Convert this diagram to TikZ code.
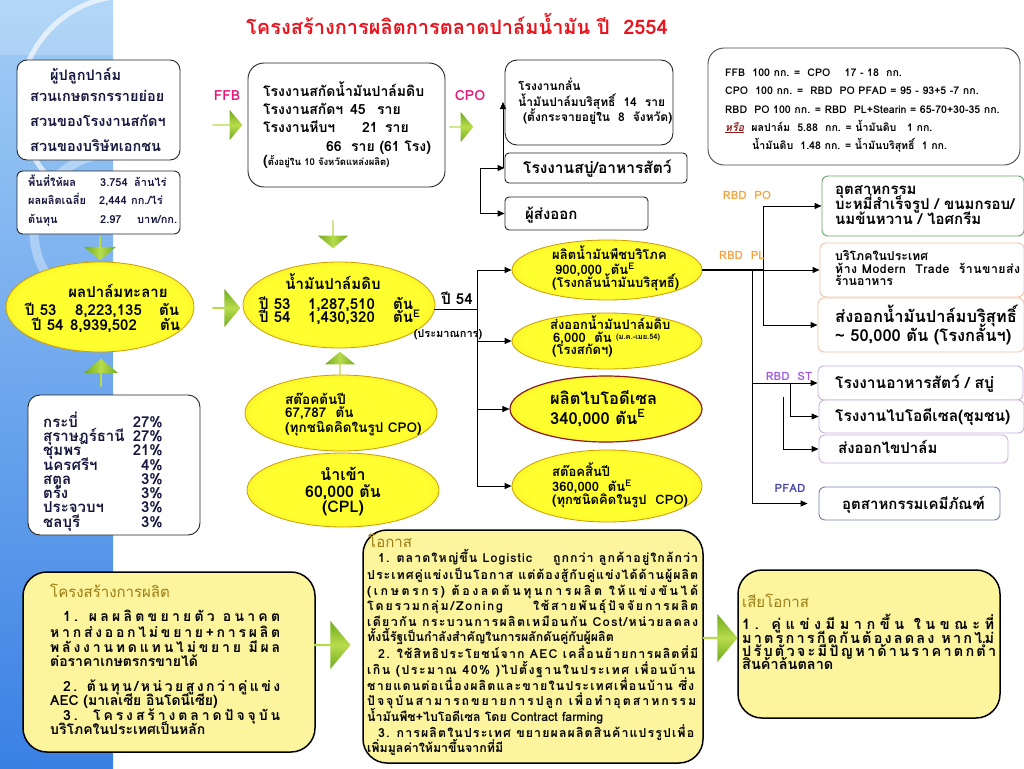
\documentclass[tikz,border=0pt]{standalone}
\usepackage{fontspec}
\setmainfont[Script=Thai]{Loma}
\usetikzlibrary{shapes.geometric,shapes.arrows,arrows.meta}
\definecolor{bgtop}{HTML}{A2CEF6}
\definecolor{bgbot}{HTML}{3A80E4}
\definecolor{byel}{HTML}{FCF59E}
\definecolor{olive}{HTML}{9C7C12}
\definecolor{mag}{HTML}{E5177C}
\definecolor{rorange}{HTML}{F4A23C}
\definecolor{rpurple}{HTML}{A05CE0}
\definecolor{pblue}{HTML}{4545A5}
\definecolor{navy}{HTML}{16163E}
\definecolor{ygold}{HTML}{C9A000}
\definecolor{yin}{HTML}{FFFF30}
\definecolor{yout}{HTML}{E8B800}
\definecolor{gdark}{HTML}{6FAA1E}
\definecolor{glight}{HTML}{B8DC4C}
\definecolor{redtitle}{HTML}{E8141E}
\definecolor{darkred}{HTML}{8B1A1A}
\definecolor{bgreen}{HTML}{6AA56A}
\definecolor{bsalmon}{HTML}{F0C4AC}
\definecolor{blilac}{HTML}{C8B0DC}
\definecolor{bslate}{HTML}{7080A8}
\newcommand\myfs[1]{\fontsize{#1}{#1}\selectfont}
\newlength\jwa
\newlength\jwb
\newcommand\jfit[2]{%
  \settowidth\jwa{#2}%
  \settowidth\jwb{\addfontfeature{LetterSpace=10}#2}%
  \pgfmathsetmacro\jls{max(0,10*(#1-\jwa)/(\jwb-\jwa))}%
  \edef\jtmp{\noexpand\addfontfeature{LetterSpace=\jls}}%
  {\jtmp #2}}
\pgfdeclareradialshading{yshade}{\pgfpoint{0bp}{0bp}}{color(0bp)=(yin); color(22bp)=(yin); color(46bp)=(yout); color(50bp)=(yout)}
\tikzset{
  box/.style={draw=black!85, line width=0.9pt, rounded corners=#1, fill=white, inner sep=0pt},
  box/.default=8pt,
  rbox/.style={draw=#1, line width=0.9pt, rounded corners=6pt, fill=white, inner sep=0pt},
  bigbox/.style={draw=black, line width=1.5pt, rounded corners=24pt, fill=byel, inner sep=0pt},
  yell/.style={ellipse, draw=ygold, line width=0.8pt, shading=yshade, inner sep=0pt},
  garR/.style={single arrow, draw=none, inner sep=0pt, single arrow head extend=4pt,
    single arrow tip angle=100, top color=gdark, bottom color=gdark, middle color=glight},
  garV/.style={single arrow, draw=none, inner sep=0pt, single arrow head extend=4pt,
    single arrow tip angle=100, shape border rotate=#1, left color=gdark, right color=gdark, middle color=glight},
  con/.style={-{Triangle[length=7pt,width=6pt]}, line width=0.9pt},
  ln/.style={line width=0.9pt},
  tx/.style={inner sep=0pt, anchor=base west, font=\bfseries\myfs{#1}},
  tc/.style={inner sep=0pt, anchor=base, font=\bfseries\myfs{#1}},
  tn/.style={inner sep=0pt, anchor=base west, font=\mdseries\myfs{#1}},
}
\begin{document}
\begin{tikzpicture}[x=1pt,y=-1pt]
\useasboundingbox (0,0) rectangle (1024,768);
\fill[white] (0,0) rectangle (1024,768);
% left decorative strip
\shade[top color=bgtop, bottom color=bgbot] (0,0) rectangle (113,768);
\begin{scope}
  \clip (0,0) rectangle (113,768);
  \fill[white, opacity=0.18] (0,0) rectangle (113,55);
  \draw[white, line width=5pt, opacity=0.65] (128,104) circle (108);
  \draw[white, line width=9pt, opacity=0.35] (112,232) circle (78);
\end{scope}

% title
\node[tc=20, text=redtitle] (title) at (457,35) {โครงสร้างการผลิตการตลาดปาล์มน้ำมัน ปี~~2554};

% farmers box
\node[box=10pt, minimum width=163pt, minimum height=100pt] (farm) at (98.5,110) {};
\node[tx=14.5, text=navy] (f1) at (50,81) {ผู้ปลูกปาล์ม};
\node[tx=14.5, text=navy] (f2) at (30,101) {สวนเกษตรกรรายย่อย};
\node[tx=14.5, text=navy] (f3) at (30,126) {สวนของโรงงานสกัดฯ};
\node[tx=14.5, text=navy] (f4) at (30,151) {สวนของบริษัทเอกชน};

\node[box=6pt, minimum width=163pt, minimum height=63pt] (area) at (98.5,202.5) {};
\node[tx=11, text=navy] (a1) at (28,186) {\makebox[72pt][l]{พื้นที่ให้ผล}\makebox[34pt][l]{3.754}ล้านไร่};
\node[tx=11, text=navy] (a2) at (28,204) {\makebox[71pt][l]{ผลผลิตเฉลี่ย}\makebox[32pt][l]{2,444}กก./ไร่};
\node[tx=11, text=navy] (a3) at (28,223) {\makebox[72pt][l]{ต้นทุน}\makebox[37pt][l]{2.97}บาท/กก.};

% fresh fruit bunch ellipse
\node[yell, minimum width=188pt, minimum height=90pt] (bunch) at (100,307) {};
\node[tc=15] (b1) at (118,297.5) {ผลปาล์มทะลาย};
\node[tx=15] (b2) at (25,315.5) {\makebox[50pt][l]{ปี 53}\makebox[84pt][l]{8,223,135}ตัน};
\node[tx=15] (b3) at (32,330.5) {\makebox[38pt][l]{ปี 54}\makebox[90pt][l]{8,939,502}ตัน};

% provinces
\node[box=12pt, minimum width=172pt, minimum height=140pt] (prov) at (114,465) {};
\foreach \nm/\pc/\yy [count=\i] in {กระบี่/27\%/427.5, สุราษฎร์ธานี/27\%/441.5, ชุมพร/21\%/455.5, นครศรีฯ/4\%/470.5, สตูล/3\%/484.5, ตรัง/3\%/498.5, ประจวบฯ/3\%/512.5, ชลบุรี/3\%/527}{
  \node[tx=15, text=navy] (pn\i) at (43,\yy) {\nm};
  \node[tx=15, text=navy, anchor=base east] (pp\i) at (163,\yy) {\pc};
}

% green block arrows
\node[garV=270, minimum height=24pt, minimum width=32pt] (g1) at (100,248) {};
\node[garV=90, minimum height=28pt, minimum width=34pt] (g2) at (101,373) {};
\node[garR, minimum height=28pt, minimum width=38pt] (g3) at (226,308) {};
\node[garR, minimum height=30pt, minimum width=30pt] (g4) at (227,125) {};
\node[garV=270, minimum height=28pt, minimum width=30pt] (g5) at (333,234) {};
\node[garV=90, minimum height=28pt, minimum width=30pt] (g6) at (340,366) {};
\node[garR, minimum height=24pt, minimum width=30pt] (g7) at (461,127) {};

\node[tc=14, text=mag] (lffb) at (227,100) {FFB};
\node[tc=14, text=mag] (lcpo) at (470,100) {CPO};

% mills box
\node[box=16pt, minimum width=197pt, minimum height=124pt] (mill) at (346.5,125) {};
\node[tx=14] (m1) at (263,96) {โรงงานสกัดน้ำมันปาล์มดิบ};
\node[tx=14] (m2) at (263,114) {\makebox[87pt][l]{โรงงานสกัดฯ}\makebox[27pt][l]{45}ราย};
\node[tx=14] (m3) at (263,132) {\makebox[99pt][l]{โรงงานหีบฯ}\makebox[23pt][l]{21}ราย};
\node[tx=14] (m4) at (326,151) {66~~ราย (61 โรง)};
\node[tx=9.5] (m5) at (263,165) {{\myfs{14}(}ตั้งอยู่ใน 10 จังหวัดแหล่งผลิต)};

% refinery and others
\node[box=12pt, minimum width=168pt, minimum height=85pt] (refine) at (589,102.5) {};
\node[tx=12] (r1) at (518,90.5) {โรงงานกลั่น};
\node[tx=12] (r2) at (518,106.5) {น้ำมันปาล์มบริสุทธิ์~~14~~ราย};
\node[tx=12] (r3) at (523,121.5) {(ตั้งกระจายอยู่ใน~~8~~จังหวัด)};

\node[box=4pt, minimum width=182pt, minimum height=30pt] (soap) at (596,168) {};
\node[tx=15.5] (s1) at (523,173) {โรงงานสบู่/อาหารสัตว์};
\node[box=4pt, minimum width=143pt, minimum height=33pt] (export) at (576.5,213.5) {};
\node[tx=15] (x1) at (525,219.5) {ผู้ส่งออก};

\coordinate (ja) at (480,168);
\coordinate (jb) at (480,213.5);
\coordinate (jc) at (503,168);
\coordinate (jd) at (503,102);
\draw[ln] (ja) -- (jb);
\draw[con] (ja) -- (soap.west);
\draw[con] (jb) -- (export.west);
\draw[con] (jc) -- (jd);

% conversion box
\node[box=16pt, draw=black!70, minimum width=312pt, minimum height=117pt] (conv) at (864,106.5) {};
\node[tx=10.6] (c1) at (725,76) {FFB~~100 กก. =~~CPO~~~~17 - 18~~กก.};
\node[tx=10.6] (c2) at (725,94) {CPO~~100 กก. =~~RBD~~PO PFAD = 95 - 93+5 -7 กก.};
\node[tx=10.6] (c3) at (725,113) {RBD~~PO 100 กก. = RBD~~PL+Stearin = 65-70+30-35 กก.};
\node[tx=10.6] (c4) at (725,131) {\textcolor{darkred}{\underline{\itshape หรือ}}~~ผลปาล์ม~~5.88~~กก. = น้ำมันดิบ~~~1 กก.};
\node[tx=10.6] (c5) at (752,149) {น้ำมันดิบ~~1.48 กก. = น้ำมันบริสุทธิ์~~1 กก.};

% crude palm oil
\node[yell, minimum width=192pt, minimum height=86pt] (cpo) at (339,305) {};
\node[tc=15] (e21) at (333,289.5) {น้ำมันปาล์มดิบ};
\node[tx=15] (e22) at (259,309.5) {\makebox[49pt][l]{ปี 53}\makebox[85pt][l]{1,287,510}ตัน};
\node[tx=15] (e23) at (259,322.5) {\makebox[49pt][l]{ปี 54}\makebox[85pt][l]{1,430,320}ตัน\textsuperscript{E}};

\node[yell, minimum width=192pt, minimum height=76pt] (stock0) at (341,413) {};
\node[tx=13.5] (e71) at (285,404) {สต๊อคต้นปี};
\node[tx=13.5] (e72) at (285,417) {67,787~~ตัน};
\node[tx=13.5] (e73) at (285,432) {(ทุกชนิดคิดในรูป CPO)};

\node[yell, minimum width=192pt, minimum height=74pt] (import) at (343,490) {};
\node[tc=16] (e81) at (343,480) {นำเข้า};
\node[tc=16] (e82) at (343,497) {60,000 ตัน};
\node[tc=16] (e83) at (343,512) {(CPL)};

% right ellipses
\node[yell, minimum width=190pt, minimum height=60pt] (veg) at (607,270) {};
\node[tx=13] (e31) at (552,259) {ผลิตน้ำมันพืชบริโภค};
\node[tx=13] (e32) at (555,274) {900,000~~ตัน\textsuperscript{E}};
\node[tx=13] (e33) at (552,287) {(โรงกลั่นน้ำมันบริสุทธิ์)};

\node[yell, minimum width=190pt, minimum height=56pt] (crudeexp) at (607,341) {};
\node[tx=13] (e41) at (550,329) {ส่งออกน้ำมันปาล์มดิบ};
\node[tx=13] (e42) at (553,342) {6,000~~ตัน \raisebox{3pt}{\myfs{7.5}(ม.ค.-เมย.54)}};
\node[tx=13] (e43) at (552,354) {(โรงสกัดฯ)};

\node[yell, draw=darkred, line width=1.2pt, minimum width=192pt, minimum height=66pt] (bio) at (606,409) {};
\node[tx=16.5] (e51) at (550,404) {ผลิตไบโอดีเซล};
\node[tx=16.5] (e52) at (550,424) {340,000 ตัน\textsuperscript{E}};

\node[yell, minimum width=190pt, minimum height=72pt] (endstock) at (607,486) {};
\node[tx=13] (e61) at (552,476) {สต๊อคสิ้นปี};
\node[tx=13] (e62) at (552,491) {360,000~~ตัน\textsuperscript{E}};
\node[tx=13] (e63) at (552,504) {(ทุกชนิดคิดในรูป~~CPO)};

% distribution from CPO
\coordinate (p00) at (434,309);
\coordinate (p0) at (477,309);
\coordinate (pt) at (477,270);
\coordinate (p2) at (477,341);
\coordinate (p3) at (477,409);
\coordinate (pb) at (477,486);
\draw[ln] (p00) -- (p0);
\draw[ln] (pt) -- (pb);
\draw[con] (pt) -- (veg.west);
\draw[con] (p2) -- (crudeexp.west);
\draw[con] (p3) -- (bio.west);
\draw[con] (pb) -- (endstock.west);
\node[tc=15] (y54) at (457,304) {ปี 54};
\node[tc=11] (est) at (448,337) {(ประมาณการ)};

% right boxes
\node[rbox=bgreen, minimum width=202pt, minimum height=60pt] (rb1) at (923,206) {};
\node[tx=15] (rt1a) at (835,194) {อุตสาหกรรม};
\node[tx=15] (rt1b) at (835,209.5) {บะหมี่สำเร็จรูป / ขนมกรอบ/};
\node[tx=15] (rt1c) at (835,224.5) {นมข้นหวาน / ไอศกรีม};

\node[rbox=bsalmon, minimum width=204pt, minimum height=54pt] (rb2) at (922,270) {};
\node[tx=12.3] (rt2a) at (835,260) {บริโภคในประเทศ};
\node[tx=12.3] (rt2b) at (835,273) {\jfit{185pt}{ห้าง Modern~~Trade~~ร้านขายส่ง}};
\node[tx=12.3] (rt2c) at (835,285) {ร้านอาหาร};

\node[rbox=bsalmon, minimum width=206pt, minimum height=54pt] (rb3) at (921,325) {};
\node[tx=16.5] (rt3a) at (835,322) {ส่งออกน้ำมันปาล์มบริสุทธิ์};
\node[tx=16.5] (rt3b) at (835,341) {\textasciitilde{} 50,000 ตัน (โรงกลั้นฯ)};

\node[rbox=blilac, minimum width=205pt, minimum height=34pt] (rb4) at (920.5,383) {};
\node[tx=15.5] (rt4) at (835,388) {โรงงานอาหารสัตว์ / สบู่};
\node[rbox=blilac, minimum width=205pt, minimum height=33pt] (rb5) at (921.5,416.5) {};
\node[tx=15.5] (rt5) at (835,421) {โรงงานไบโอดีเซล(ชุมชน)};
\node[rbox=blilac, minimum width=189pt, minimum height=28pt] (rb6) at (913.5,449) {};
\node[tx=15] (rt6) at (838,453) {ส่งออกไขปาล์ม};
\node[rbox=bslate, minimum width=181pt, minimum height=33pt] (rb7) at (909.5,503.5) {};
\node[tx=15] (rt7) at (842,509) {อุตสาหกรรมเคมีภัณฑ์};

% connectors on the right
\coordinate (k0) at (763,270);
\coordinate (k1) at (763,206);
\coordinate (k3) at (763,325);
\draw[line width=2.6pt] (veg.east) -- (k0);
\draw[ln] (k1) -- (k3);
\draw[con] (k1) -- (rb1.west);
\draw[con] (k0) -- (rb2.west);
\draw[con] (k3) -- (rb3.west);
\coordinate (n0) at (752,270);
\coordinate (n1) at (752,503.5);
\draw[ln] (n0) -- (n1);
\draw[con, shorten >=11pt] (n1) -- (rb7.west);
\coordinate (st0) at (752,383);
\draw[con] (st0) -- (rb4.west);
\coordinate (st1) at (790,383);
\coordinate (st2) at (790,416.5);
\draw[ln] (st1) -- (st2);
\draw[con] (st2) -- (rb5.west);
\coordinate (st3) at (783,397);
\coordinate (st4) at (783,449);
\draw[ln] (st3) -- (st4);
\draw[con] (st4) -- (rb6.west);

\node[tc=11.5, text=rorange] (lpo) at (747,199) {RBD~~PO};
\node[tc=11.5, text=rorange] (lpl) at (742,259) {RBD~~PL};
\node[tc=11.5, text=rpurple] (lst) at (789,380) {RBD~~ST};
\node[tc=11.5, text=pblue] (lpf) at (790,492) {PFAD};

% bottom boxes
\node[bigbox, minimum width=292pt, minimum height=180pt] (prodbox) at (169,662) {};
\node[tn=15, text=olive] (q0) at (50,597) {โครงสร้างการผลิต};
\node[tx=14] (q1) at (63,621) {\jfit{217pt}{1. ผลผลิตขยายตัว อนาคต}};
\node[tx=14] (q2) at (50,637) {\jfit{230pt}{หากส่งออกไม่ขยาย+การผลิต}};
\node[tx=14] (q3) at (50,652) {\jfit{230pt}{พลังงานทดแทนไม่ขยาย มีผล}};
\node[tx=14] (q4) at (50,666) {ต่อราคาเกษตรกรขายได้};
\node[tx=14] (q5) at (63,691) {\jfit{217pt}{2. ต้นทุน/หน่วยสูงกว่าคู่แข่ง}};
\node[tx=14] (q6) at (50,705) {AEC (มาเลเซีย อินโดนีเซีย)};
\node[tx=14] (q7) at (63,720) {\jfit{217pt}{3.~~โครงสร้างตลาดปัจจุบัน}};
\node[tx=14] (q8) at (50,734) {บริโภคในประเทศเป็นหลัก};

\node[bigbox, minimum width=340pt, minimum height=233pt] (oppbox) at (533,646.5) {};
\node[tn=15, text=olive] (o0) at (368,547) {โอกาส};
\node[tx=12.4] (o1) at (378,562) {\jfit{320pt}{1. ตลาดใหญ่ขึ้น Logistic~~~~ถูกกว่า ลูกค้าอยู่ใกล้กว่า}};
\node[tx=12.4] (o2) at (367,579) {\jfit{331pt}{ประเทศคู่แข่งเป็นโอกาส แต่ต้องสู้กับคู่แข่งได้ด้านผู้ผลิต}};
\node[tx=12.4] (o3) at (367,595) {\jfit{331pt}{(เกษตรกร) ต้องลดต้นทุนการผลิต ให้แข่งขันได้}};
\node[tx=12.4] (o4) at (367,610) {\jfit{331pt}{โดยรวมกลุ่ม/Zoning~~~~~ใช้สายพันธุ์ปัจจัยการผลิต}};
\node[tx=12.4] (o5) at (367,626) {\jfit{331pt}{เดียวกัน กระบวนการผลิตเหมือนกัน Cost/หน่วยลดลง}};
\node[tx=12.4] (o6) at (367,641) {ทั้งนี้รัฐเป็นกำลังสำคัญในการผลักดันคู่กับผู้ผลิต};
\node[tx=12.4] (o7) at (378,658) {\jfit{320pt}{2. ใช้สิทธิประโยชน์จาก AEC เคลื่อนย้ายการผลิตที่มี}};
\node[tx=12.4] (o8) at (367,674) {\jfit{328pt}{เกิน (ประมาณ 40\% )ไปตั้งฐานในประเทศ เพื่อนบ้าน}};
\node[tx=12.4] (o9) at (367,690) {\jfit{327pt}{ชายแดนต่อเนื่องผลิตและขายในประเทศเพื่อนบ้าน ซึ่ง}};
\node[tx=12.4] (o10) at (367,705) {\jfit{329pt}{ปัจจุบันสามารถขยายการปลูก เพื่อทำอุตสาหกรรม}};
\node[tx=12.4] (o11) at (367,721) {น้ำมันพืช+ไบโอดีเซล โดย Contract farming};
\node[tx=12.4] (o12) at (378,737) {\jfit{316pt}{3. การผลิตในประเทศ ขยายผลผลิตสินค้าแปรรูปเพื่อ}};
\node[tx=12.4] (o13) at (367,752) {เพิ่มมูลค่าให้มาขึ้นจากที่มี};

\node[bigbox, minimum width=262pt, minimum height=148pt] (lossbox) at (869,644) {};
\node[tn=15, text=olive] (l0) at (742,607) {เสียโอกาส};
\node[tx=14.5] (l1) at (742,629) {\jfit{252pt}{1. คู่แข่งมีมากขึ้น ในขณะที่}};
\node[tx=14.5] (l2) at (742,643) {\jfit{252pt}{มาตรการกีดกันต้องลดลง หากไม่}};
\node[tx=14.5] (l3) at (742,656) {\jfit{254pt}{ปรับตัวจะมีปัญหาด้านราคาตกต่ำ}};
\node[tx=14.5] (l4) at (742,669) {สินค้าล้นตลาด};

\node[garR, minimum height=36pt, minimum width=48pt] (g8) at (332,645) {};
\node[garR, minimum height=34pt, minimum width=48pt] (g9) at (720,638) {};
\end{tikzpicture}
\end{document}
